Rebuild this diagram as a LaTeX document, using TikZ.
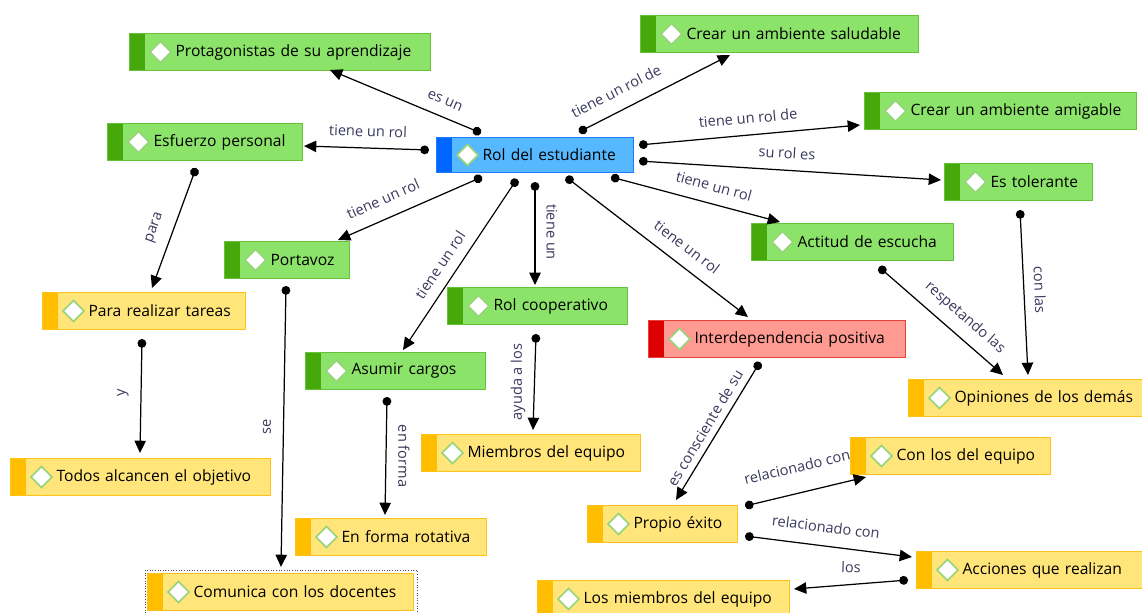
\documentclass[tikz,border=0pt]{standalone}
\usepackage{fontspec}
\setmainfont{Open Sans}
\usetikzlibrary{arrows.meta}

\definecolor{gfill}{HTML}{8CE36A}
\definecolor{gdraw}{HTML}{66C23A}
\definecolor{gstrip}{HTML}{47A80B}
\definecolor{bfill}{HTML}{56B9FF}
\definecolor{bdraw}{HTML}{1E7BFF}
\definecolor{bstrip}{HTML}{0066FF}
\definecolor{yfill}{HTML}{FFE57A}
\definecolor{ydraw}{HTML}{FFC21A}
\definecolor{ystrip}{HTML}{FFBF00}
\definecolor{rfill}{HTML}{FF9A92}
\definecolor{rdraw}{HTML}{E8413A}
\definecolor{rstrip}{HTML}{DD0000}
\definecolor{dmd}{HTML}{96D47A}
\definecolor{lbltext}{HTML}{3A3A5E}

\begin{document}
\begin{tikzpicture}
        [x=0.02cm,y=-0.02cm,
         concept/.style n args={3}{rectangle,anchor=north west,fill=#1,draw=#2,line width=0.6pt,
           minimum height=0.74cm,inner ysep=0pt,inner xsep=0.2cm,align=left,
           font=\fontsize{8.9}{10}\selectfont,
           execute at begin node={\noindent\hspace*{0.72cm}},
           path picture={
             \fill[#3] (path picture bounding box.north west) rectangle ([xshift=0.3cm]path picture bounding box.south west);
             \draw[dmd,fill=white,line width=0.9pt] ([xshift=0.62cm]path picture bounding box.west)
               +(-10.5,0) -- +(0,-10.5) -- +(10.5,0) -- +(0,10.5) -- cycle;
           }},
         gbox/.style={concept={gfill}{gdraw}{gstrip}},
         bbox/.style={concept={bfill}{bdraw}{bstrip}},
         ybox/.style={concept={yfill}{ydraw}{ystrip}},
         rbox/.style={concept={rfill}{rdraw}{rstrip}},
         link/.style={line width=0.7pt,{Circle[length=5pt]}-{Triangle[length=7pt,width=6.5pt]}},
         lbl/.style={font=\fontsize{8.3}{10}\selectfont,text=lbltext,inner sep=1pt}]

        \fill[white] (0,0) rectangle (1142,612);
        \useasboundingbox (0,0) rectangle (1142,612);

        \node[bbox,text width=3.54cm,minimum height=0.70cm] (rol) at (436,137) {Rol del estudiante};
        \node[gbox,text width=5.62cm] (prota) at (129,33) {Protagonistas de su aprendizaje};
        \node[gbox,text width=5.16cm] (salud) at (640,15) {Crear un ambiente saludable};
        \node[gbox,text width=5.04cm] (amig) at (864,92) {Crear un ambiente amigable};
        \node[gbox,text width=3.50cm] (esfu) at (107,123) {Esfuerzo personal};
        \node[gbox,text width=2.56cm] (toler) at (944,163) {Es tolerante};
        \node[gbox,text width=3.64cm] (escu) at (751,223) {Actitud de escucha};
        \node[gbox,text width=2.10cm] (porta) at (224,241) {Portavoz};
        \node[ybox,text width=3.66cm] (tareas) at (42,292) {Para realizar tareas};
        \node[gbox,text width=3.20cm] (coop) at (447,287) {Rol cooperativo};
        \node[rbox,text width=4.74cm] (inter) at (648,320) {Interdependencia positiva};
        \node[gbox,text width=3.20cm] (cargos) at (305,352) {Asumir cargos};
        \node[ybox,text width=4.44cm] (opin) at (908,379) {Opiniones de los demás};
        \node[ybox,text width=3.98cm] (miemb) at (421,434) {Miembros del equipo};
        \node[ybox,text width=4.80cm] (todos) at (10,458) {Todos alcancen el objetivo};
        \node[ybox,text width=3.60cm] (conlos) at (850,437) {Con los del equipo};
        \node[ybox,text width=2.60cm] (exito) at (587,505) {Propio éxito};
        \node[ybox,text width=3.42cm] (rotat) at (295,518) {En forma rotativa};
        \node[ybox,text width=4.20cm] (acci) at (916,551) {Acciones que realizan};
        \node[ybox,text width=4.92cm] (docen) at (147,573) {Comunica con los docentes};
        \node[ybox,text width=4.64cm] (losm) at (537,580) {Los miembros del equipo};

        \draw[densely dotted,black!70,line width=0.5pt] ([shift={(-2,-3)}]docen.north west) rectangle ([shift={(3,2)}]docen.south east);

        \draw[link] ([shift={(45,-4)}]rol.north west) -- ([shift={(201,37)}]prota.north west);
        \draw[link] ([shift={(143,-5)}]rol.north west) -- ([shift={(90,40)}]salud.north west);
        \draw[link] ([shift={(-7,13)}]rol.north west) -- ([shift={(197,23)}]esfu.north west);
        \draw[link] ([shift={(203,8)}]rol.north west) -- ([shift={(-4,33)}]amig.north west);
        \draw[link] ([shift={(203,24)}]rol.north west) -- ([shift={(-3,17)}]toler.north west);
        \draw[link] ([shift={(175,40)}]rol.north west) -- ([shift={(29,-1)}]escu.north west);
        \draw[link] ([shift={(46,40)}]rol.north west) -- ([shift={(114,-1)}]porta.north west);
        \draw[link] ([shift={(81,42)}]rol.north west) -- ([shift={(98,-2)}]cargos.north west);
        \draw[link] ([shift={(99,45)}]rol.north west) -- ([shift={(88,-2)}]coop.north west);
        \draw[link] ([shift={(130,40)}]rol.north west) -- ([shift={(100,-3)}]inter.north west);
        \draw[link] ([shift={(89,45)}]esfu.north west) -- ([shift={(110,-4)}]tareas.north west);
        \draw[link] ([shift={(100,47)}]tareas.north west) -- ([shift={(130,-5)}]todos.north west);
        \draw[link] ([shift={(62,45)}]porta.north west) -- ([shift={(134,-6)}]docen.north west);
        \draw[link] ([shift={(89,47)}]coop.north west) -- ([shift={(112,-4)}]miemb.north west);
        \draw[link] ([shift={(82,45)}]cargos.north west) -- ([shift={(90,-3)}]rotat.north west);
        \draw[link] ([shift={(112,42)}]inter.north west) -- ([shift={(89,-5)}]exito.north west);
        \draw[link] ([shift={(128,44)}]escu.north west) -- ([shift={(95,-4)}]opin.north west);
        \draw[link] ([shift={(76,47)}]toler.north west) -- ([shift={(120,-4)}]opin.north west);
        \draw[link] ([shift={(158,1)}]exito.north west) -- ([shift={(16,40)}]conlos.north west);
        \draw[link] ([shift={(158,31)}]exito.north west) -- ([shift={(-4,6)}]acci.north west);
        \draw[link] ([shift={(-8,29)}]acci.north west) -- ([shift={(257,9)}]losm.north west);

        \node[lbl,rotate=-22.6] (l1) at (445,101) {es un};
        \node[lbl,rotate=27] (l2) at (616,91) {tiene un rol de};
        \node[lbl,rotate=-2] (l3) at (368,131) {tiene un rol};
        \node[lbl,rotate=5] (l4) at (748,118) {tiene un rol de};
        \node[lbl,rotate=-3.5] (l5) at (787,153) {su rol es};
        \node[lbl,rotate=-15] (l6) at (714,186) {tiene un rol};
        \node[lbl,rotate=24] (l7) at (383,199) {tiene un rol};
        \node[lbl,rotate=56] (l8) at (440,265) {tiene un rol};
        \node[lbl,rotate=-90] (l9) at (552,232) {tiene un};
        \node[lbl,rotate=-37.5] (l10) at (687,247) {tiene un rol};
        \node[lbl,rotate=70] (l11) at (155,228) {para};
        \node[lbl,rotate=90] (l12) at (123,393) {y};
        \node[lbl,rotate=90] (l13) at (267,427) {se};
        \node[lbl,rotate=90] (l14) at (518,382) {ayuda a los};
        \node[lbl,rotate=-90] (l15) at (404,456) {en forma};
        \node[lbl,rotate=59] (l16) at (705,428) {es consciente de su};
        \node[lbl,rotate=-41] (l17) at (965,318) {respetando las};
        \node[lbl,rotate=-88] (l18) at (1040,290) {con las};
        \node[lbl,rotate=13.5] (l19) at (797,467) {relacionado con};
        \node[lbl,rotate=-7] (l20) at (826,527) {relacionado con};
        \node[lbl,rotate=-2] (l21) at (851,567) {los};
      \end{tikzpicture}
\end{document}
